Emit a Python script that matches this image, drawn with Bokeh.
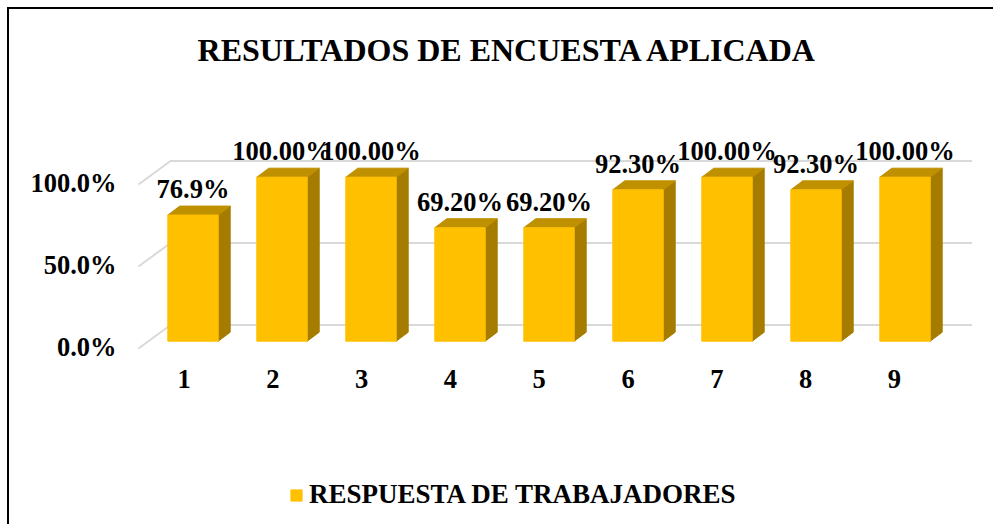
from bokeh.plotting import figure
from bokeh.models import (LinearAxis, Range1d, FixedTicker, Legend, LegendItem, ColumnDataSource, Label)
from bokeh.embed import file_html
from bokeh.resources import INLINE
from bokeh.core.properties import value

categories = [1, 2, 3, 4, 5, 6, 7, 8, 9]
values = [76.9, 100.0, 100.0, 69.2, 69.2, 92.3, 100.0, 92.3, 100.0]
value_labels = ["76.9%", "100.00%", "100.00%", "69.20%", "69.20%", "92.30%", "100.00%", "92.30%", "100.00%"]
grid_values = [0, 50, 100]
tick_labels = ["0.0%", "50.0%", "100.0%"]
title_text = "RESULTADOS DE ENCUESTA APLICADA"
series_name = "RESPUESTA DE TRABAJADORES"

FONT = "Liberation Serif"
PAGE = 9                  # where the canvas begins in the picture
W, H = 995 - PAGE, 526 - PAGE
FRAME_L, FRAME_T = 125, PAGE
PITCH = 89.0              # px per category
PXU = 1.64                # px per percentage point
fl, fr = FRAME_L, PAGE + W
ft, fb = FRAME_T, PAGE + H

def xd(px):   # picture px -> category coordinate
    return 1 + (px - 192.5) / PITCH
def yd(px):   # picture px -> value coordinate (front of the bars)
    return (340.7 - px) / PXU

p = figure(width=W, height=H, output_backend="svg", toolbar_location=None,
           x_range=Range1d(xd(fl), xd(fr)), y_range=Range1d(yd(fb), yd(ft)),
           x_axis_location=None, y_axis_location=None,
           min_border_left=FRAME_L - PAGE, min_border_right=0,
           min_border_top=0, min_border_bottom=0)
p.grid.visible = False
p.outline_line_color = None
p.border_fill_color = "white"
p.styles = {"border-left": "2px solid black", "border-top": "2px solid black",
            "margin-left": "7px", "margin-top": "7px"}

# --- gridlines of the 3D wall and floor ---
DX, DY = 12 / PITCH, 9 / PXU
gx_back_l, gx_back_r, gx_front = xd(170), xd(971.5), xd(138)
gy_back, gy_front = (340.7 - 324.5) / PXU, (340.7 - 348) / PXU
for v in grid_values:
    p.line([gx_front, gx_back_l, gx_back_r], [v + gy_front, v + gy_back, v + gy_back],
           line_color="#d9d9d9", line_width=2)

# --- bars ---
half = 25.2 / PITCH
src = ColumnDataSource(dict(x=categories, top=values, label=value_labels))
side_x = [[c + half, c + half + DX, c + half + DX, c + half] for c in categories]
side_y = [[0, DY, v + DY, v] for v in values]
top_x = [[c - half, c - half + DX, c + half + DX, c + half] for c in categories]
top_y = [[v, v + DY, v + DY, v] for v in values]
p.patches(side_x, side_y, fill_color="#A67C00", line_color="#A67C00", line_width=1)
p.patches(top_x, top_y, fill_color="#BF9000", line_color="#BF9000", line_width=1)
bars = p.vbar(x="x", top="top", bottom=0, width=2 * half, source=src,
              fill_color="#FFC000", line_color="#FFC000", line_width=1)

# --- value labels ---
p.text(x="x", y="top", text="label", source=src, text_align="center", text_baseline="middle",
       y_offset=-26, text_font=value(FONT), text_font_style="bold", text_font_size="26.5px",
       text_color="black")

# --- axes with their own ranges (their origin is the front edge of the 3D floor) ---
p.extra_y_ranges = {"axis": Range1d((346.5 - fb) / PXU, (346.5 - ft) / PXU)}
yax = LinearAxis(y_range_name="axis", ticker=FixedTicker(ticks=grid_values),
                 major_label_overrides={v: t for v, t in zip(grid_values, tick_labels)},
                 axis_line_color=None, major_tick_line_color=None, minor_tick_line_color=None,
                 major_label_standoff=3,
                 major_label_text_font=FONT, major_label_text_font_style="bold",
                 major_label_text_font_size="26.5px", major_label_text_color="black")
p.add_layout(yax, "left")

p.extra_x_ranges = {"axis": Range1d(1 + (fl - 183.5) / 88.8, 1 + (fr - 183.5) / 88.8)}
xax = LinearAxis(x_range_name="axis", ticker=FixedTicker(ticks=categories),
                 fixed_location=yd(362),
                 axis_line_color=None, major_tick_line_color=None, minor_tick_line_color=None,
                 major_label_standoff=1,
                 major_label_text_font=FONT, major_label_text_font_style="bold",
                 major_label_text_font_size="26.5px", major_label_text_color="black")
p.add_layout(xax, "below")

# --- legend: placed from the frame's lower left corner ---
leg = Legend(items=[LegendItem(label=series_name, renderers=[bars])], orientation="horizontal",
             location=(289 - fl, 526 - 510), border_line_color=None, background_fill_alpha=0,
             glyph_width=14, glyph_height=14, label_standoff=6, padding=0, margin=0,
             label_text_font=FONT, label_text_font_style="bold", label_text_font_size="27px",
             label_text_color="black")
p.add_layout(leg, "center")

# --- title: a label inside the frame ---
p.add_layout(Label(x=xd(507.5), y=yd(49), text=title_text, text_align="center", text_baseline="middle",
                   text_font=FONT, text_font_style="bold", text_font_size="32px", text_color="black"))

open("out.html", "w").write(file_html(p, INLINE))
